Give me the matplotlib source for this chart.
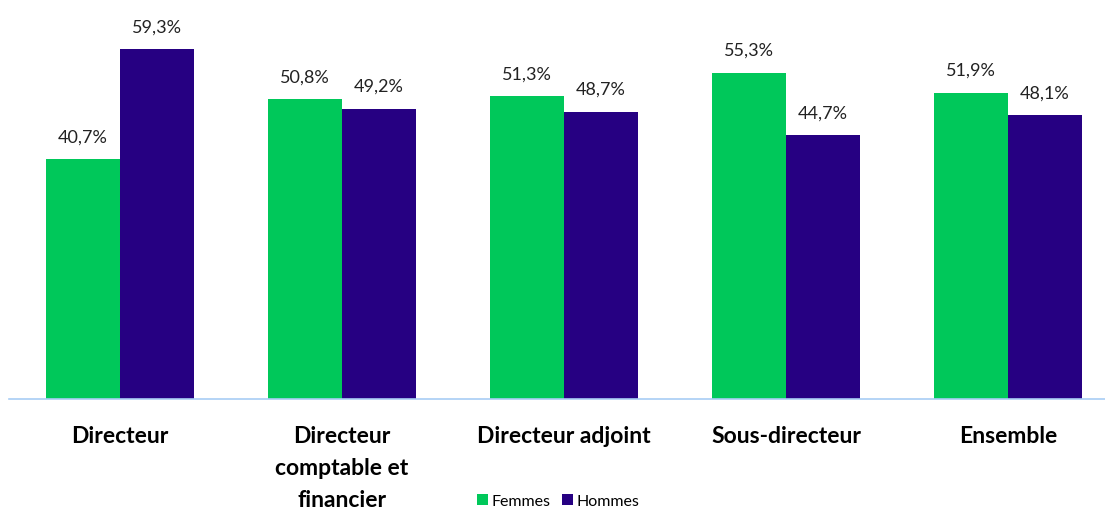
import numpy as np
import matplotlib
matplotlib.use('Agg')
import matplotlib.pyplot as plt

plt.rcParams['font.family'] = ['Lato', 'DejaVu Sans']

# données
categories = ['Directeur', 'Directeur\ncomptable et\nfinancier', 'Directeur adjoint',
              'Sous-directeur', 'Ensemble']
femmes = [40.7, 50.8, 51.3, 55.3, 51.9]
hommes = [59.3, 49.2, 48.7, 44.7, 48.1]
series_names = ['Femmes', 'Hommes']

col_f = '#00C85A'
col_h = '#260082'

fig = plt.figure(figsize=(11.05, 5.1), dpi=100)
# l'axe déborde un peu à droite comme dans l'original
ax = fig.add_axes([9 / 1105, 110 / 510, 1110 / 1105, 400 / 510])

x = np.arange(len(categories))
w = 0.333
b1 = ax.bar(x - w / 2, femmes, w, color=col_f, label=series_names[0])
b2 = ax.bar(x + w / 2, hommes, w, color=col_h, label=series_names[1])

for bars, vals in ((b1, femmes), (b2, hommes)):
    for r, v in zip(bars, vals):
        ax.annotate(f'{v:.1f}%'.replace('.', ','),
                    (r.get_x() + r.get_width() / 2, v),
                    xytext=(0, 10.5), textcoords='offset points',
                    ha='center', va='bottom', fontsize=13, color='#222222')

ax.set_xlim(-0.5, len(categories) - 0.5)
ax.set_ylim(0, 67.77)
ax.set_yticks([])
for s in ['top', 'right', 'left']:
    ax.spines[s].set_visible(False)
ax.spines['bottom'].set_color('#A8CDF5')
ax.spines['bottom'].set_linewidth(1.2)

ax.set_xticks(x)
ax.set_xticklabels(categories, fontsize=16.5, fontweight='bold', va='top',
                   linespacing=1.65)
ax.tick_params(axis='x', length=0, pad=18.5)

fig.legend(handles=[b1, b2], labels=series_names, loc='center',
           bbox_to_anchor=(558 / 1105, 1 - 502 / 510), ncol=2, frameon=False,
           fontsize=11.5, handlelength=0.7, handleheight=0.7, handletextpad=0.2,
           columnspacing=0.7, borderpad=0)

fig.savefig('out.png', dpi=100)
